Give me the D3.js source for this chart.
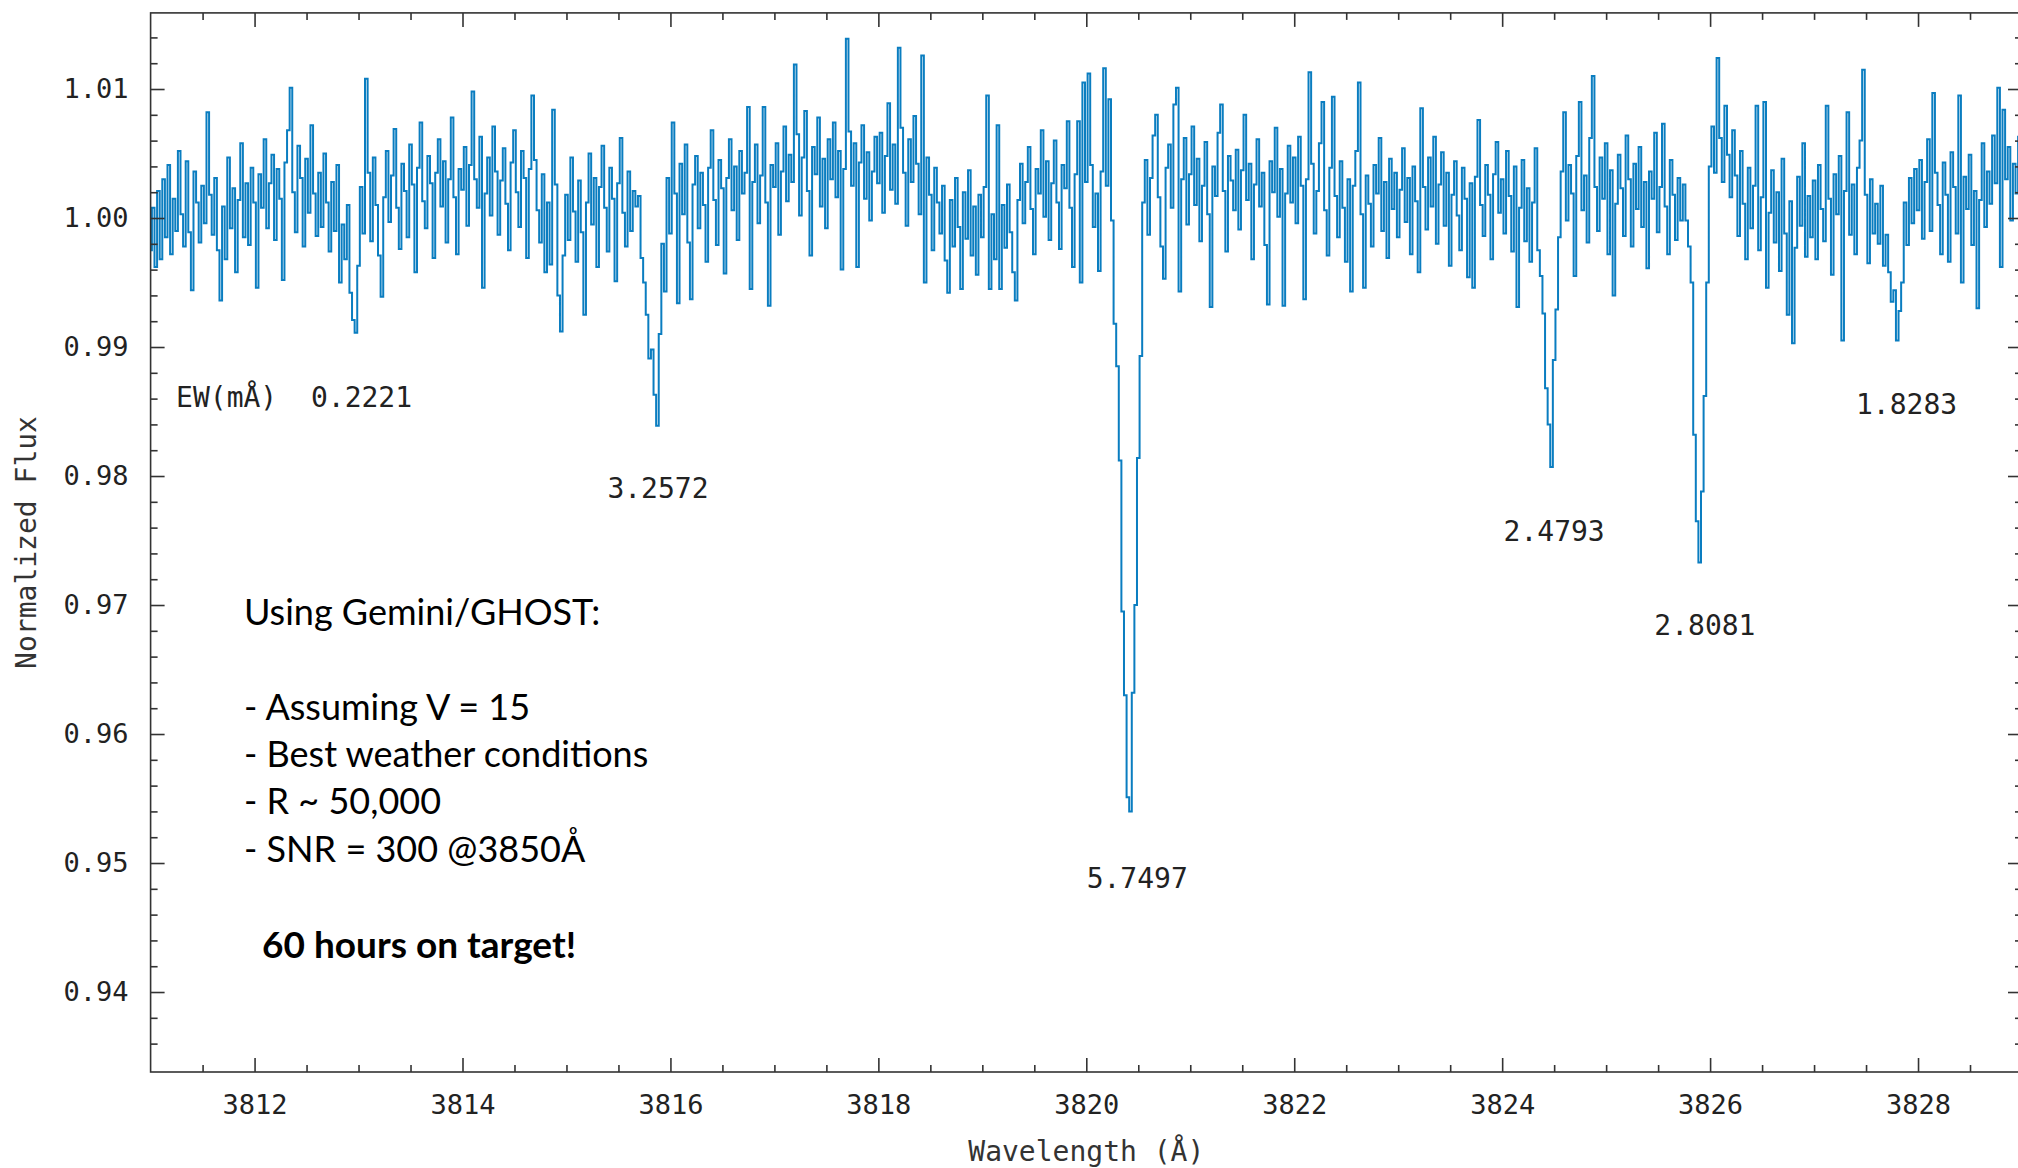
<!DOCTYPE html>
<html>
<head>
<meta charset="utf-8">
<script src="https://cdn.jsdelivr.net/npm/d3@7"></script>
<style>
  html, body { margin: 0; padding: 0; background: #fff; overflow: hidden; }
  text { white-space: pre; }
</style>
</head>
<body>
<svg id="chart" width="2018" height="1168"></svg>
<script>
// Normalized flux, one row per ångström starting at 3811 Å, sampled every 0.025 Å
const firstAngstrom = 3811;
const sampleStep = 0.025;
const fluxRows = [
  // 3811
  [0.9975,1.0008,0.9962,1.0021,0.9968,1.0030,0.9985,1.0041,0.9972,1.0015, 0.9990,1.0052,1.0003,0.9978,1.0044,0.9989,0.9944,1.0036,1.0012,0.9981, 1.0025,0.9996,1.0082,1.0018,0.9987,1.0031,0.9975,0.9936,1.0009,0.9968, 1.0047,0.9992,1.0023,0.9958,1.0014,1.0058,0.9985,1.0027,0.9979,1.0039],
  // 3812
  [1.0012,0.9946,1.0034,1.0008,1.0061,0.9992,1.0027,1.0049,0.9983,1.0038, 1.0015,0.9952,1.0043,1.0068,1.0101,1.0020,0.9989,1.0056,1.0031,0.9978, 1.0046,1.0004,1.0072,1.0019,0.9986,1.0035,0.9993,1.0050,1.0012,0.9974, 1.0028,0.9990,1.0041,0.9950,0.9995,0.9968,1.0010,0.9942,0.9921,0.9911],
  // 3813
  [0.9963,1.0024,0.9988,1.0108,1.0035,0.9982,1.0047,1.0010,0.9971,0.9939, 1.0016,1.0052,0.9997,1.0033,1.0069,1.0008,0.9976,1.0042,1.0021,0.9985, 1.0057,1.0026,0.9958,1.0039,1.0074,1.0013,0.9992,1.0048,1.0027,0.9969, 1.0035,1.0061,1.0009,1.0044,0.9981,1.0030,1.0078,1.0016,0.9972,1.0038],
  // 3814
  [1.0022,1.0055,0.9994,1.0041,1.0098,1.0030,1.0008,1.0063,0.9946,1.0019, 1.0047,1.0002,1.0071,1.0036,0.9987,1.0029,1.0054,1.0011,0.9975,1.0043, 1.0068,1.0020,0.9993,1.0052,1.0031,0.9969,1.0038,1.0095,1.0045,1.0006, 0.9981,1.0034,0.9958,1.0012,0.9964,1.0084,1.0026,0.9940,0.9912,0.9971],
  // 3815
  [1.0018,0.9983,1.0047,1.0005,0.9966,1.0029,0.9989,0.9925,1.0012,1.0050, 0.9995,1.0031,0.9962,1.0024,1.0056,1.0008,0.9974,1.0039,1.0015,0.9951, 1.0027,1.0062,1.0004,0.9978,1.0036,0.9990,1.0021,1.0009,1.0017,0.9969, 0.9950,0.9925,0.9891,0.9898,0.9863,0.9839,0.9910,0.9980,0.9943,1.0031],
  // 3816
  [0.9988,1.0074,1.0019,0.9934,1.0042,1.0003,1.0057,0.9981,0.9937,1.0026, 1.0048,0.9992,1.0035,1.0010,0.9966,1.0039,1.0068,1.0014,0.9979,1.0045, 1.0023,0.9957,1.0031,1.0061,1.0006,1.0040,0.9983,1.0052,1.0019,1.0035, 1.0086,0.9945,1.0028,1.0057,0.9996,1.0033,1.0086,1.0012,0.9932,1.0041],
  // 3817
  [1.0024,1.0058,0.9987,1.0036,1.0071,1.0013,1.0049,1.0028,1.0119,1.0065, 1.0002,1.0047,1.0083,1.0021,0.9971,1.0055,1.0034,1.0078,1.0009,1.0046, 0.9992,1.0061,1.0030,1.0074,1.0016,1.0052,0.9960,1.0038,1.0139,1.0067, 1.0025,1.0058,0.9962,1.0043,1.0072,1.0015,1.0051,0.9998,1.0036,1.0063],
  // 3818
  [1.0027,1.0066,1.0004,1.0048,1.0089,1.0022,1.0057,1.0011,1.0132,1.0070, 1.0035,0.9994,1.0061,1.0028,1.0079,1.0042,1.0003,1.0126,0.9950,1.0047, 1.0018,0.9975,1.0039,1.0012,0.9988,1.0025,0.9967,0.9942,1.0014,0.9978, 1.0031,0.9993,0.9945,1.0020,0.9984,1.0037,0.9971,1.0009,0.9956,1.0018],
  // 3819
  [0.9985,1.0024,1.0095,0.9945,1.0003,0.9968,1.0072,0.9945,1.0010,0.9977, 1.0026,0.9989,0.9958,0.9936,1.0014,1.0042,0.9996,1.0028,1.0055,1.0007, 0.9972,1.0038,1.0019,1.0068,1.0001,1.0044,0.9983,1.0027,1.0060,1.0012, 0.9976,1.0041,1.0023,1.0075,1.0008,0.9962,1.0034,1.0075,0.9950,1.0105],
  // 3820
  [1.0028,1.0112,1.0041,0.9993,1.0019,0.9959,1.0036,1.0116,1.0025,1.0092, 0.9998,0.9918,0.9885,0.9812,0.9695,0.9630,0.9551,0.9540,0.9632,0.9700, 0.9814,0.9893,1.0012,1.0045,0.9987,1.0031,1.0064,1.0080,1.0016,0.9978, 0.9953,1.0039,1.0057,1.0008,1.0088,1.0101,0.9943,1.0030,1.0062,0.9995],
  // 3821
  [1.0034,1.0071,1.0010,1.0046,0.9982,1.0025,1.0059,1.0003,0.9931,1.0040, 1.0017,1.0066,1.0088,1.0021,0.9974,1.0048,1.0029,1.0006,1.0053,0.9991, 1.0037,1.0080,1.0014,1.0042,0.9968,1.0026,1.0061,1.0009,1.0035,0.9979, 0.9933,1.0044,1.0020,1.0070,1.0001,1.0038,0.9932,1.0019,1.0056,1.0012],
  // 3822
  [1.0047,0.9996,1.0063,1.0025,0.9937,1.0030,1.0113,1.0042,0.9988,1.0021, 1.0058,1.0090,1.0006,0.9971,1.0039,1.0094,1.0017,0.9985,1.0044,1.0008, 0.9966,1.0030,0.9943,1.0025,1.0052,1.0105,1.0003,0.9946,1.0033,1.0011, 0.9978,1.0041,1.0019,1.0062,0.9990,1.0028,0.9969,1.0046,1.0007,1.0035],
  // 3823
  [0.9985,1.0022,1.0054,0.9997,1.0031,0.9972,1.0040,1.0013,0.9958,1.0085, 1.0024,0.9991,1.0047,1.0009,1.0063,0.9980,1.0026,1.0051,0.9994,1.0035, 0.9963,1.0018,1.0044,1.0002,0.9975,1.0039,1.0015,0.9954,1.0027,0.9946, 1.0032,1.0076,1.0010,0.9986,1.0041,1.0018,0.9968,1.0034,1.0059,1.0004],
  // 3824
  [1.0030,0.9988,1.0052,1.0017,0.9974,1.0040,0.9931,1.0008,1.0045,0.9982, 1.0023,0.9966,1.0012,1.0054,0.9975,0.9955,0.9926,0.9868,0.9840,0.9807, 0.9890,0.9929,0.9985,1.0036,1.0082,0.9998,1.0041,1.0019,0.9955,1.0048, 1.0090,1.0006,1.0033,0.9981,1.0062,1.0110,1.0024,0.9990,1.0047,1.0015],
  // 3825
  [1.0058,0.9972,1.0037,0.9940,1.0011,1.0049,1.0023,0.9986,1.0064,1.0030, 0.9978,1.0042,1.0007,1.0055,0.9993,1.0028,0.9961,1.0036,1.0015,1.0066, 0.9989,1.0024,1.0073,1.0009,0.9972,1.0045,1.0018,0.9983,1.0031,0.9998, 1.0026,0.9998,0.9978,0.9950,0.9832,0.9765,0.9733,0.9788,0.9862,0.9950],
  // 3826
  [1.0040,1.0071,1.0035,1.0124,1.0062,1.0028,1.0087,1.0049,1.0016,1.0068, 1.0033,0.9986,1.0052,1.0011,0.9968,1.0039,0.9992,1.0025,1.0087,0.9975, 1.0016,1.0090,0.9946,1.0004,1.0037,0.9981,1.0020,0.9959,1.0046,0.9988, 0.9925,1.0013,0.9903,0.9977,1.0032,0.9994,1.0058,0.9970,1.0017,0.9985],
  // 3827
  [1.0029,0.9968,1.0041,1.0007,0.9982,1.0087,1.0015,0.9956,1.0034,1.0003, 1.0048,0.9905,1.0021,1.0082,0.9987,1.0026,0.9972,1.0039,1.0060,1.0115, 1.0018,0.9965,1.0030,0.9988,1.0011,0.9980,1.0025,0.9963,0.9987,0.9958, 0.9935,0.9944,0.9905,0.9928,0.9950,1.0012,0.9979,1.0031,0.9996,1.0038],
  // 3828 (last value at 3829.000)
  [1.0006,1.0045,0.9984,1.0028,1.0061,0.9990,1.0097,1.0035,1.0010,0.9972, 1.0043,1.0018,0.9966,1.0051,1.0024,0.9988,1.0095,0.9950,1.0032,1.0007, 1.0049,0.9979,1.0021,0.9930,1.0014,1.0058,0.9993,1.0036,1.0011,1.0064, 1.0027,1.0101,0.9962,1.0084,1.0030,1.0055,0.9998,1.0042,1.0019,1.0063, 1.0026]
];

// Axis ranges and ticks
const wavelengthDomain = [3811, 3829];
const fluxDomain = [0.9338, 1.0159];
const xMajorTicks = [3812, 3814, 3816, 3818, 3820, 3822, 3824, 3826, 3828];
const xMinorTicks = d3.range(3811.5, 3829, 0.5).filter(v => v % 2 !== 0);
const yMajorTicks = [0.94, 0.95, 0.96, 0.97, 0.98, 0.99, 1.00, 1.01];
const yMinorTicks = [0.936, 0.938, 0.942, 0.944, 0.946, 0.948, 0.952, 0.954, 0.956, 0.958,
  0.962, 0.964, 0.966, 0.968, 0.972, 0.974, 0.976, 0.978, 0.982, 0.984, 0.986, 0.988,
  0.992, 0.994, 0.996, 0.998, 1.002, 1.004, 1.006, 1.008, 1.012, 1.014];

// Equivalent widths (mÅ) of the absorption lines, with where each value is written
const ewLabels = [
  { text: "EW(mÅ)  0.2221", wavelength: 3811.245, flux: 0.9860, anchor: "start" },
  { text: "3.2572", wavelength: 3815.88, flux: 0.9789, anchor: "middle" },
  { text: "5.7497", wavelength: 3820.49, flux: 0.9487, anchor: "middle" },
  { text: "2.4793", wavelength: 3824.50, flux: 0.9756, anchor: "middle" },
  { text: "2.8081", wavelength: 3825.95, flux: 0.9683, anchor: "middle" },
  { text: "1.8283", wavelength: 3827.89, flux: 0.9854, anchor: "middle" }
];

// Observing notes
const noteLines = [
  { text: "Using Gemini/GHOST:", bold: false, indent: 0, baseline: 625 },
  { text: "- Assuming V = 15", bold: false, indent: 0, baseline: 720 },
  { text: "- Best weather conditions", bold: false, indent: 0, baseline: 767 },
  { text: "- R ~ 50,000", bold: false, indent: 0, baseline: 814 },
  { text: "- SNR = 300 @3850Å", bold: false, indent: 0, baseline: 862 },
  { text: "60 hours on target!", bold: true, indent: 18, baseline: 958 }
];

const plot = { left: 150.6, right: 2022, top: 12.9, bottom: 1072 };
const axisColor = "#333";
const monoFont = "'DejaVu Sans Mono', 'Liberation Mono', monospace";

const svg = d3.select("#chart");

const x = d3.scaleLinear().domain(wavelengthDomain).range([plot.left, plot.right]);
const y = d3.scaleLinear().domain(fluxDomain).range([plot.bottom, plot.top]);

const spectrum = [];
fluxRows.forEach((row, r) => {
  row.forEach((f, j) => spectrum.push({ wavelength: firstAngstrom + r + j * sampleStep, flux: f }));
});

svg.append("clipPath").attr("id", "plot-clip")
  .append("rect")
  .attr("x", plot.left).attr("y", plot.top)
  .attr("width", plot.right - plot.left).attr("height", plot.bottom - plot.top);

// Spectrum drawn as a histogram-style step line
const line = d3.line()
  .x(d => x(d.wavelength))
  .y(d => y(d.flux))
  .curve(d3.curveStep);

svg.append("path")
  .datum(spectrum)
  .attr("clip-path", "url(#plot-clip)")
  .attr("fill", "none")
  .attr("stroke", "#0a7dc0")
  .attr("stroke-width", 2)
  .attr("stroke-linejoin", "miter")
  .attr("d", line);

// Frame
svg.append("rect")
  .attr("x", plot.left).attr("y", plot.top)
  .attr("width", plot.right - plot.left).attr("height", plot.bottom - plot.top)
  .attr("fill", "none").attr("stroke", axisColor).attr("stroke-width", 1.6);

const majorLen = 14, minorLen = 7;

function tickAxis(axisFn, scale, values, len, transform) {
  const g = svg.append("g").attr("transform", transform)
    .call(axisFn(scale).tickValues(values).tickSize(len).tickFormat(""));
  g.select(".domain").remove();
  g.selectAll(".tick line").attr("stroke", axisColor).attr("stroke-width", 1.6);
  return g;
}

// Inward-pointing ticks on all four sides
tickAxis(d3.axisTop, x, xMajorTicks, majorLen, `translate(0,${plot.bottom})`);
tickAxis(d3.axisTop, x, xMinorTicks, minorLen, `translate(0,${plot.bottom})`);
tickAxis(d3.axisBottom, x, xMajorTicks, majorLen, `translate(0,${plot.top})`);
tickAxis(d3.axisBottom, x, xMinorTicks, minorLen, `translate(0,${plot.top})`);
tickAxis(d3.axisRight, y, yMajorTicks, majorLen, `translate(${plot.left},0)`);
tickAxis(d3.axisRight, y, yMinorTicks, minorLen, `translate(${plot.left},0)`);
tickAxis(d3.axisLeft, y, yMajorTicks, majorLen, `translate(${plot.right},0)`);
tickAxis(d3.axisLeft, y, yMinorTicks, minorLen, `translate(${plot.right},0)`);

// Tick labels
const xLabels = svg.append("g").attr("transform", `translate(0,${plot.bottom})`)
  .call(d3.axisBottom(x).tickValues(xMajorTicks).tickSize(0).tickPadding(23).tickFormat(d3.format("d")));
xLabels.select(".domain").remove();
xLabels.selectAll("text").attr("font-family", monoFont).attr("font-size", 27).attr("fill", "#222");

const yLabels = svg.append("g").attr("transform", `translate(${plot.left},0)`)
  .call(d3.axisLeft(y).tickValues(yMajorTicks).tickSize(0).tickPadding(22).tickFormat(d3.format(".2f")));
yLabels.select(".domain").remove();
yLabels.selectAll("text").attr("font-family", monoFont).attr("font-size", 27).attr("fill", "#222");

// Axis titles
svg.append("text")
  .attr("x", x(3820)).attr("y", 1153)
  .attr("text-anchor", "middle").attr("dominant-baseline", "middle")
  .attr("font-family", monoFont).attr("font-size", 28).attr("fill", "#333")
  .text("Wavelength (Å)");

svg.append("text")
  .attr("transform", `translate(28,${(plot.top + plot.bottom) / 2}) rotate(-90)`)
  .attr("text-anchor", "middle").attr("dominant-baseline", "middle")
  .attr("font-family", monoFont).attr("font-size", 28).attr("fill", "#333")
  .text("Normalized Flux");

// Equivalent-width labels
svg.append("g").selectAll("text")
  .data(ewLabels)
  .join("text")
  .attr("x", d => x(d.wavelength))
  .attr("y", d => y(d.flux))
  .attr("text-anchor", d => d.anchor)
  .attr("dominant-baseline", "middle")
  .attr("font-family", monoFont).attr("font-size", 28).attr("fill", "#222")
  .text(d => d.text);

// Observing notes
svg.append("g").selectAll("text")
  .data(noteLines)
  .join("text")
  .attr("x", d => 244 + d.indent)
  .attr("y", d => d.baseline)
  .attr("font-family", "Lato, 'Open Sans', sans-serif")
  .attr("font-size", d => d.bold ? 37 : 36)
  .attr("font-weight", d => d.bold ? 700 : 400)
  .attr("fill", "#000")
  .text(d => d.text);
</script>
</body>
</html>
